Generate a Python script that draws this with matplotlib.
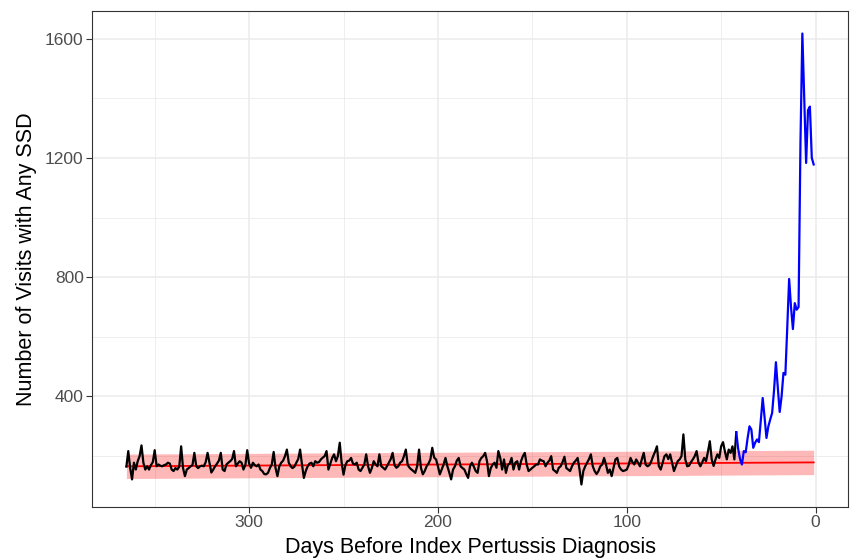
import numpy as np
import matplotlib
matplotlib.use("Agg")
import matplotlib.pyplot as plt

plt.rcParams['font.family'] = ['Liberation Sans', 'DejaVu Sans']

# daily visit counts (day 365 down to day 42)
black_days = list(range(365, 41, -1))
black_vals = [
    165,
    217, 160, 122, 178, 155, 183, 200,
    236, 178, 155, 166, 155, 170, 180,
    220, 166, 172, 168, 166, 170, 172,
    178, 175, 155, 150, 160, 155, 165,
    233, 160, 133, 155, 160, 166, 170,
    211, 166, 160, 166, 168, 166, 180,
    211, 178, 145, 155, 166, 175, 185,
    211, 155, 150, 172, 178, 183, 190,
    217, 166, 175, 183, 178, 155, 170,
    220, 175, 161, 178, 170, 166, 172,
    155, 150, 140, 139, 144, 160, 172,
    214, 160, 133, 166, 178, 185, 200,
    222, 178, 166, 160, 165, 178, 190,
    222, 172, 127, 150, 166, 175, 178,
    166, 183, 178, 180, 189, 195, 200,
    217, 155, 175, 194, 206, 183, 200,
    245, 178, 138, 170, 183, 185, 194,
    175, 172, 178, 155, 150, 161, 172,
    206, 166, 144, 160, 183, 172, 166,
    206, 166, 161, 155, 166, 178, 190,
    211, 170, 161, 166, 178, 183, 200,
    222, 170, 161, 155, 150, 144, 166,
    222, 161, 139, 150, 166, 175, 189,
    228, 195, 189, 166, 139, 155, 172,
    194, 166, 145, 122, 155, 166, 185,
    194, 166, 160, 155, 140, 127, 166,
    178, 165, 150, 144, 183, 194, 200,
    211, 183, 133, 160, 172, 178, 161,
    217, 194, 155, 189, 144, 170, 175,
    194, 155, 178, 183, 155, 183, 200,
    211, 172, 150, 155, 161, 166, 172,
    172, 189, 185, 183, 166, 178, 185,
    200, 155, 150, 144, 161, 166, 180,
    198, 160, 155, 150, 166, 178, 185,
    194, 155, 105, 150, 166, 178, 190,
    206, 166, 150, 140, 150, 166, 172,
    194, 172, 144, 155, 133, 161, 189,
    194, 165, 155, 150, 152, 155, 170,
    194, 180, 172, 189, 178, 166, 190,
    211, 172, 166, 170, 183, 200, 215,
    233, 166, 155, 178, 200, 206, 190,
    206, 178, 150, 166, 183, 189, 200,
    273, 189, 166, 168, 180, 189, 200,
    217, 178, 166, 180, 194, 183, 215,
    250, 189, 167, 189, 206, 194, 233,
    247, 215, 189, 222, 211, 233, 189,
    280,
]

# last six weeks (day 42 down to day 1)
blue_days = list(range(42, 0, -1))
blue_vals = [
    280, 225, 190, 172, 217, 213, 260,
    300, 289, 228, 245, 256, 247, 320,
    395, 330, 261, 300, 323, 345, 420,
    515, 430, 348, 400, 479, 473, 630,
    794, 700, 626, 713, 691, 700, 1250,
    1617, 1400, 1183, 1360, 1372, 1200, 1178,
]

# expected level and its band
base_days = [365, 1]
base_vals = [166, 179]
band_low = [125, 138]
band_high = [207, 220]

fig = plt.figure(figsize=(8.56, 5.6), dpi=100)
ax = fig.add_axes([0.1075, 0.0946, 0.8832, 0.8858])

ax.fill_between(base_days, band_low, band_high, color='red', alpha=0.28, lw=0)
ax.plot(base_days, base_vals, color='red', lw=1.3)
ax.plot(black_days, black_vals, color='black', lw=1.6)
ax.plot(blue_days, blue_vals, color='blue', lw=1.6)

allx = black_days + blue_days
ally = black_vals + blue_vals
xr = max(allx) - min(allx)
yr = max(ally) - min(ally)
ax.set_xlim(max(allx) + 0.05 * xr, min(allx) - 0.05 * xr)
ax.set_ylim(min(ally) - 0.05 * yr, max(ally) + 0.05 * yr)

ax.set_xticks([300, 200, 100, 0])
ax.set_xticks([350, 250, 150, 50], minor=True)
ax.set_yticks([400, 800, 1200, 1600])
ax.set_yticks([200, 600, 1000, 1400], minor=True)

ax.set_axisbelow(True)
ax.grid(which='major', color='#EBEBEB', lw=1.1)
ax.grid(which='minor', color='#EBEBEB', lw=0.6)
ax.tick_params(which='major', length=4, width=0.8, color='#333333',
               labelcolor='#4D4D4D', labelsize=12.5, pad=2)
ax.tick_params(which='minor', length=0)
for s in ax.spines.values():
    s.set_color('#333333')
    s.set_linewidth(0.8)

ax.set_xlabel("Days Before Index Pertussis Diagnosis", fontsize=15.5, labelpad=5)
ax.set_ylabel("Number of Visits with Any SSD", fontsize=15.5, labelpad=6)

fig.savefig("out.png", dpi=100)
